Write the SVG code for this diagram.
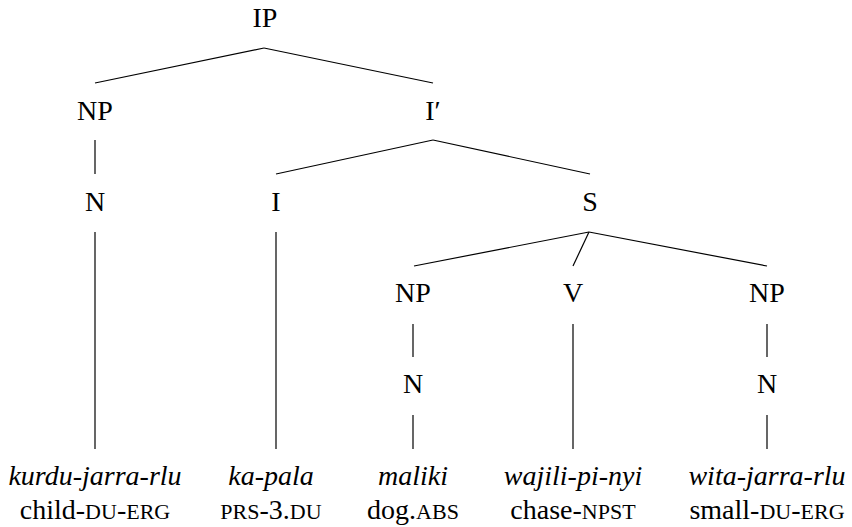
<svg xmlns="http://www.w3.org/2000/svg" width="852" height="527" viewBox="0 0 852 527">
<style>
.lab{font-family:"Liberation Serif","Times New Roman",serif;font-size:28px;fill:#000;text-anchor:middle}
.w{font-family:"Liberation Serif","Times New Roman",serif;font-size:28px;font-style:italic;fill:#000;text-anchor:middle}
.g{font-family:"Liberation Serif","Times New Roman",serif;font-size:28px;fill:#000;text-anchor:middle}
.sc{font-size:22px}
.e{stroke:#000;stroke-width:1.2;fill:none;stroke-linecap:butt}
</style>
<rect width="852" height="527" fill="#fff"/>
<g id="connectors" class="e">
<line x1="264" y1="48" x2="95" y2="83"/>
<line x1="264" y1="48" x2="433" y2="83"/>
<line x1="95" y1="140" x2="95" y2="174"/>
<line x1="433" y1="140" x2="276" y2="174"/>
<line x1="433" y1="140" x2="590" y2="174"/>
<line x1="95" y1="232" x2="95" y2="449"/>
<line x1="276" y1="232" x2="276" y2="449"/>
<line x1="589" y1="232" x2="414" y2="266"/>
<line x1="589" y1="232" x2="573" y2="266"/>
<line x1="589" y1="232" x2="767" y2="266"/>
<line x1="413" y1="324" x2="413" y2="357"/>
<line x1="767" y1="324" x2="767" y2="357"/>
<line x1="573" y1="324" x2="573" y2="449"/>
<line x1="413" y1="415" x2="413" y2="449"/>
<line x1="767" y1="415" x2="767" y2="449"/>
</g>
<g id="IP"><text class="lab" x="265" y="27">IP</text></g>
<g id="NP1"><text class="lab" x="95" y="120">NP</text></g>
<g id="Ibar"><text class="lab" x="433" y="120">I′</text></g>
<g id="N1"><text class="lab" x="95" y="211">N</text></g>
<g id="I"><text class="lab" x="276" y="211">I</text></g>
<g id="S"><text class="lab" x="590" y="211">S</text></g>
<g id="NP2"><text class="lab" x="413" y="302">NP</text></g>
<g id="V"><text class="lab" x="573" y="302">V</text></g>
<g id="NP3"><text class="lab" x="767" y="302">NP</text></g>
<g id="N2"><text class="lab" x="413" y="393">N</text></g>
<g id="N3"><text class="lab" x="767" y="393">N</text></g>
<g id="leaf1"><text class="w" x="95" y="485">kurdu-jarra-rlu</text><text class="g" x="95" y="519">child-<tspan class="sc">DU</tspan>-<tspan class="sc">ERG</tspan></text></g>
<g id="leaf2"><text class="w" x="271" y="485">ka-pala</text><text class="g" x="271" y="519"><tspan class="sc">PRS</tspan>-3.<tspan class="sc">DU</tspan></text></g>
<g id="leaf3"><text class="w" x="413" y="485">maliki</text><text class="g" x="413" y="519">dog.<tspan class="sc">ABS</tspan></text></g>
<g id="leaf4"><text class="w" x="573" y="485">wajili-pi-nyi</text><text class="g" x="573" y="519">chase-<tspan class="sc">NPST</tspan></text></g>
<g id="leaf5"><text class="w" x="767" y="485">wita-jarra-rlu</text><text class="g" x="767" y="519">small-<tspan class="sc">DU</tspan>-<tspan class="sc">ERG</tspan></text></g>
</svg>
